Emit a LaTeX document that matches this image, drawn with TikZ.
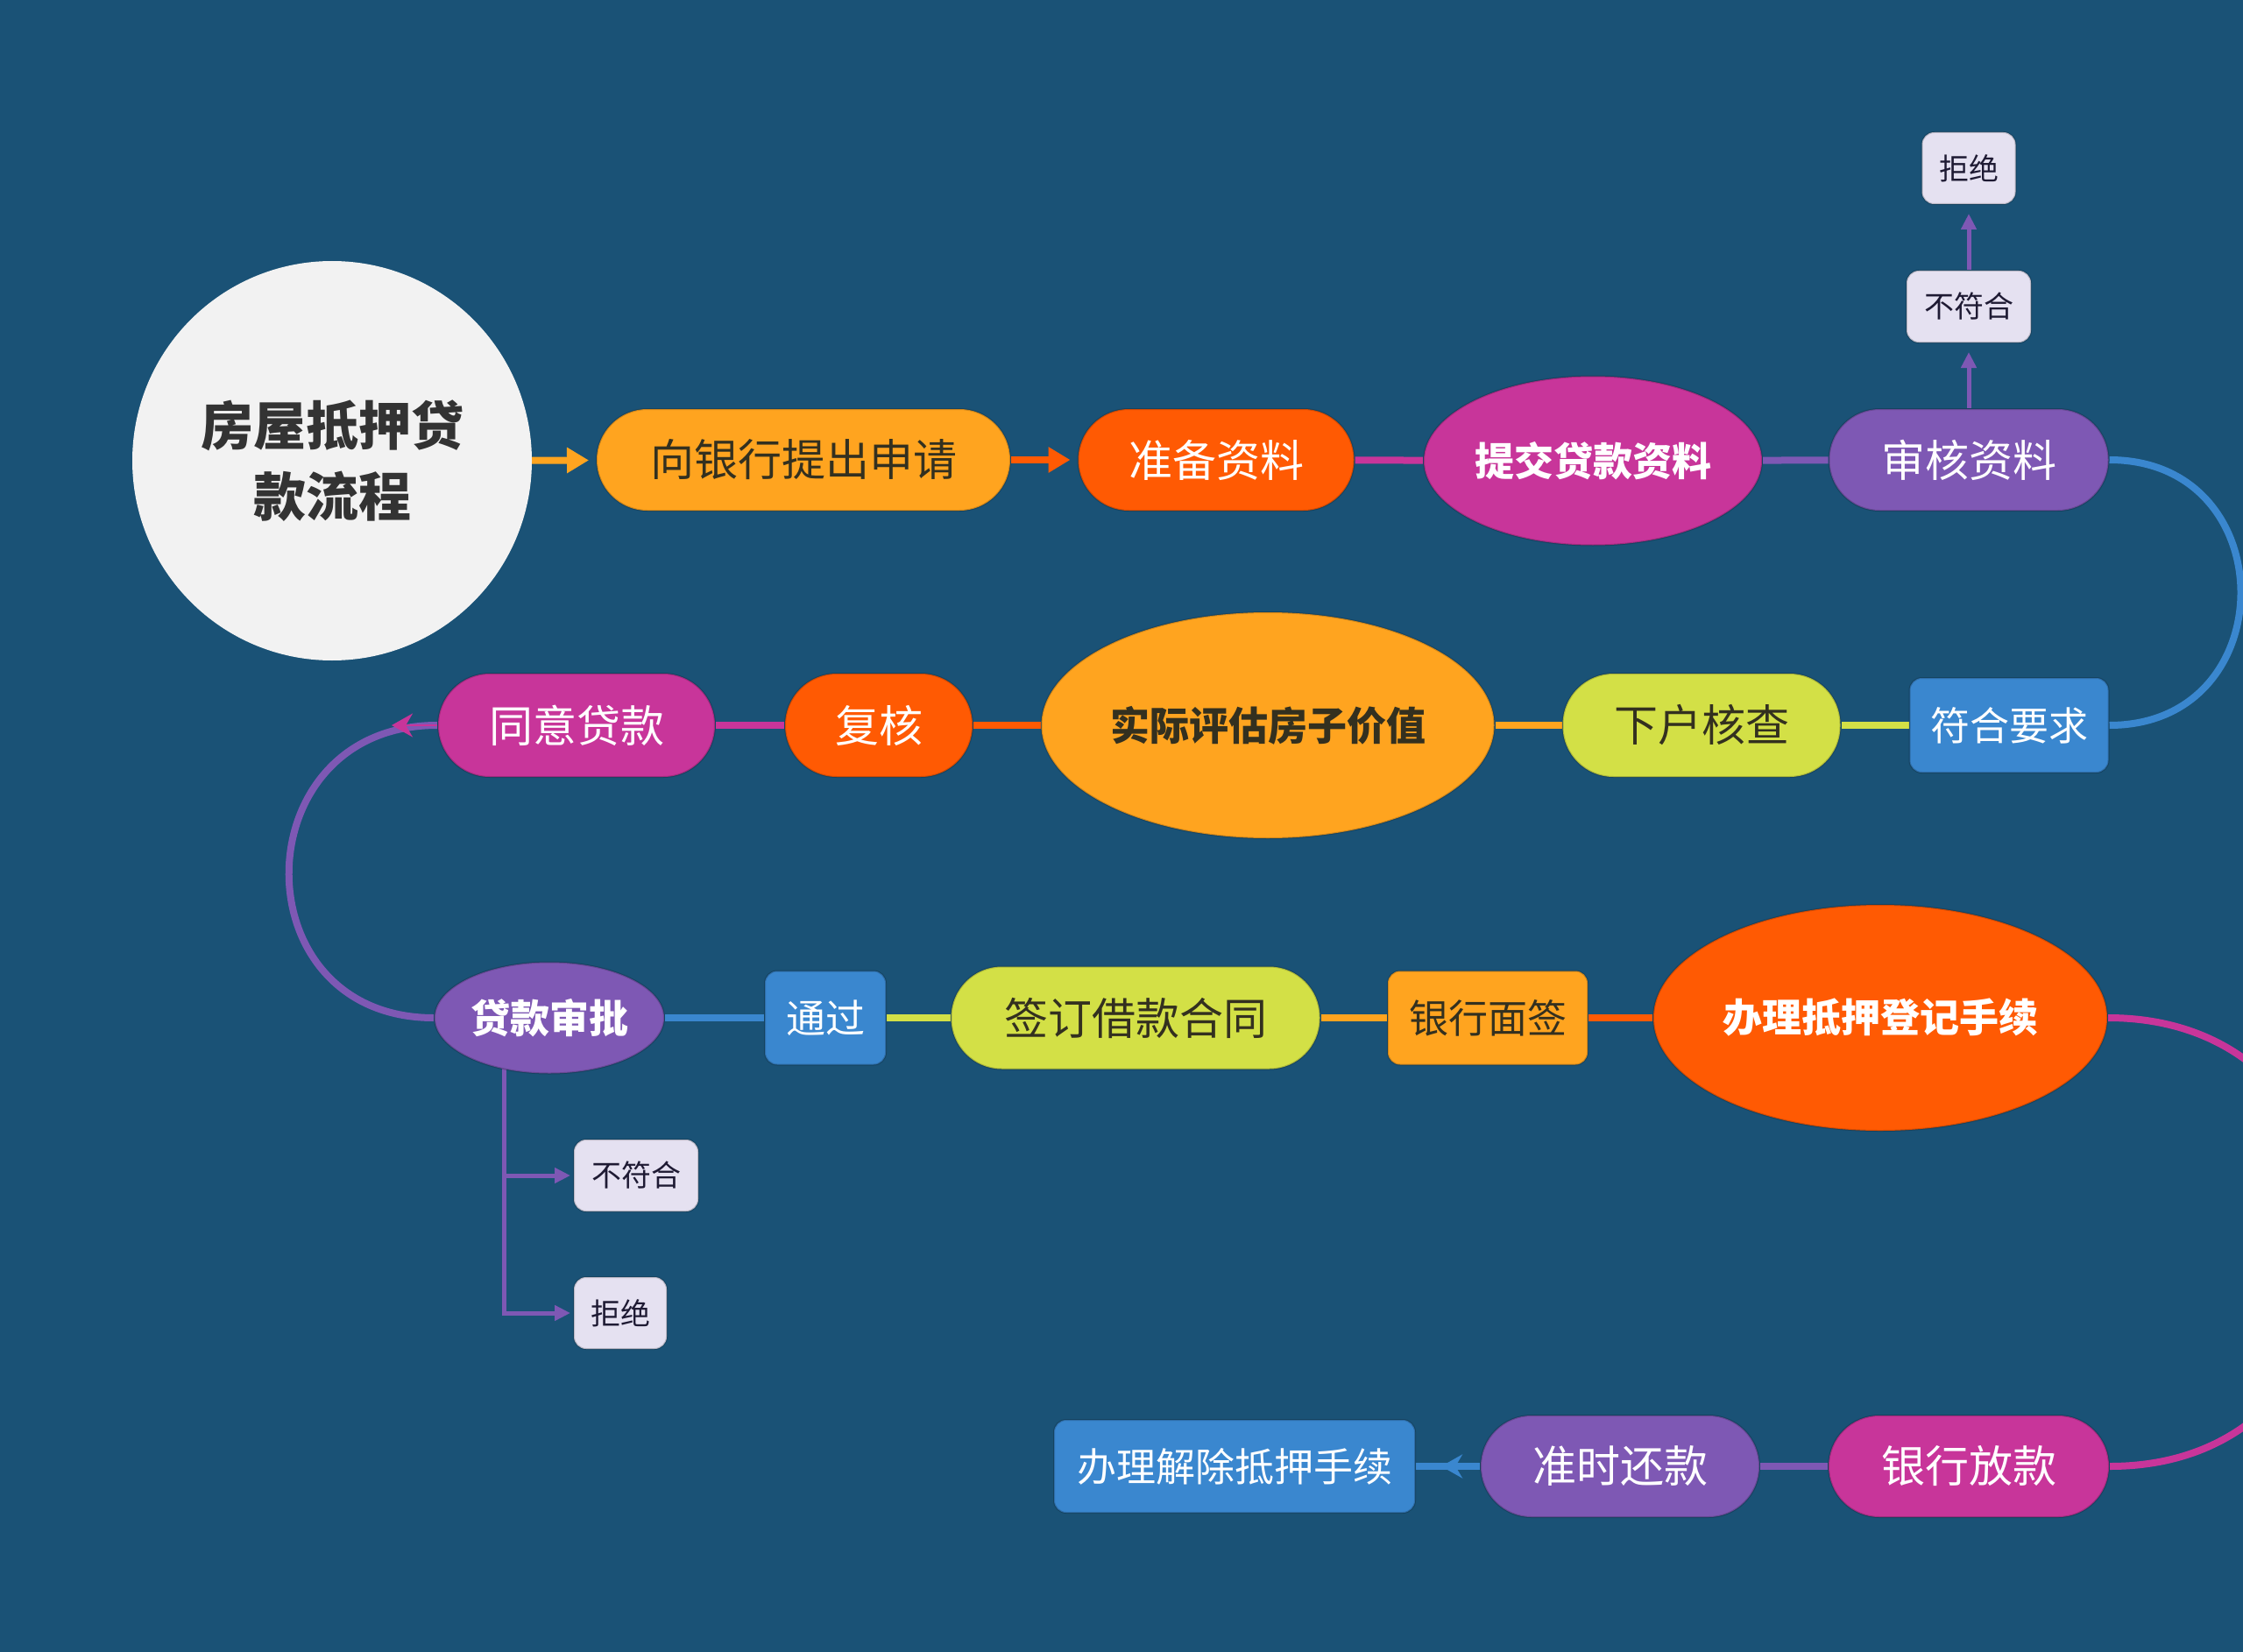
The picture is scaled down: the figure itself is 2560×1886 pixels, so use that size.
\documentclass[tikz,border=0pt]{standalone}
\usepackage{fontspec}
\newfontfamily\cjk{Noto Sans CJK SC}
\usetikzlibrary{arrows.meta,shapes.geometric}
\definecolor{bg}{HTML}{1A5276}
\definecolor{org}{HTML}{FFA41F}
\definecolor{rdo}{HTML}{FF5A03}
\definecolor{mag}{HTML}{C8359A}
\definecolor{pur}{HTML}{7E58B4}
\definecolor{blu}{HTML}{3A87CF}
\definecolor{ygr}{HTML}{D3E046}
\definecolor{lav}{HTML}{E5E1F1}
\definecolor{dtx}{HTML}{33301F}
\definecolor{rootfill}{HTML}{F2F2F2}
\definecolor{roottext}{HTML}{333333}
\definecolor{boxtext}{HTML}{1E1A33}
\newcommand\szRoot{\fontsize{60}{81}\selectfont}
\newcommand\szBig{\fontsize{50}{60}\selectfont}
\newcommand\szMid{\fontsize{45}{54}\selectfont}
\newcommand\szSml{\fontsize{34}{40}\selectfont}
\pgfdeclarelayer{bglayer}
\pgfdeclarelayer{edges}
\pgfsetlayers{bglayer,edges,main}
\tikzset{
  base/.style={font=\cjk, inner sep=0pt, align=center, draw=black, draw opacity=0.18, line width=2},
  pill/.style={base, rectangle, rounded corners=58, minimum height=116, font=\cjk\szBig},
  sqbox/.style={base, rectangle, rounded corners=14, font=\cjk\szMid},
  oval/.style={base, ellipse, font=\cjk\bfseries\szMid, text=white},
  lightbox/.style={base, rectangle, rounded corners=14, fill=lav, text=boxtext, font=\cjk\szSml, minimum height=82},
  conn/.style={line width=8},
  thin/.style={line width=5},
  bigtip/.style={-{Triangle[length=25,width=28]}},
  smalltip/.style={-{Triangle[length=18,width=17]}},
}
\begin{document}
\begin{tikzpicture}[x=1pt,y=-1pt]
\begin{pgfonlayer}{bglayer}
\fill[bg] (0,0) rectangle (2560,1886);
\end{pgfonlayer}
\useasboundingbox (0,0) rectangle (2560,1886);

% nodes
\node[circle, fill=rootfill, minimum size=456, inner sep=0pt, align=center, text=roottext, font=\cjk\bfseries\szRoot] (root) at (379,526) {房屋抵押贷\\款流程};
\node[pill, fill=org, text=dtx, minimum width=472] (n1) at (917,525) {向银行提出申请};
\node[pill, fill=rdo, text=white, minimum width=315] (n2) at (1388,525) {准备资料};
\node[oval, fill=mag, minimum width=386, minimum height=193] (n3) at (1818,526) {提交贷款资料};
\node[pill, fill=pur, text=white, minimum width=319] (n4) at (2247,525) {审核资料};
\node[lightbox, minimum width=142] (n4a) at (2247,350) {不符合};
\node[lightbox, minimum width=107] (n4b) at (2247,192) {拒绝};

\node[sqbox, fill=blu, text=white, minimum width=227, minimum height=108] (n5) at (2293,828) {符合要求};
\node[pill, fill=ygr, text=dtx, minimum width=317, minimum height=118] (n6) at (1942,828) {下户核查};
\node[oval, fill=org, text=dtx, minimum width=517, minimum height=258] (n7) at (1447,828) {实际评估房子价值};
\node[pill, fill=rdo, text=white, minimum width=214, minimum height=118, rounded corners=59] (n8) at (1003,828) {复核};
\node[pill, fill=mag, text=white, minimum width=316, minimum height=118, rounded corners=59] (n9) at (658,828) {同意贷款};

\node[oval, fill=pur, minimum width=262, minimum height=127] (n10) at (627,1162) {贷款审批};
\node[sqbox, fill=blu, text=white, minimum width=138, minimum height=107] (n11) at (942,1162) {通过};
\node[pill, fill=ygr, text=dtx, minimum width=421, minimum height=117] (n12) at (1296,1162) {签订借款合同};
\node[sqbox, fill=org, text=dtx, minimum width=228, minimum height=107] (n13) at (1698,1162) {银行面签};
\node[oval, fill=rdo, minimum width=518, minimum height=258] (n14) at (2146,1162) {办理抵押登记手续};

\node[lightbox, minimum width=142] (n18) at (726,1342) {不符合};
\node[lightbox, minimum width=106] (n19) at (708,1499) {拒绝};

\node[pill, fill=mag, text=white, minimum width=320] (n15) at (2247,1674) {银行放款};
\node[pill, fill=pur, text=white, minimum width=318] (n16) at (1849,1674) {准时还款};
\node[sqbox, fill=blu, text=white, minimum width=412, minimum height=106] (n17) at (1409,1674) {办理解除抵押手续};

% helper coordinates
\coordinate (t9) at (447,828);
\coordinate (t17) at (1645,1674);
\coordinate (b0) at (575,1200);

% connectors, behind the nodes
\begin{pgfonlayer}{edges}
\draw[org, conn, bigtip, shorten >=8] (root) -- (n1);
\draw[rdo, conn, bigtip, shorten >=8] (n1) -- (n2);
\draw[mag, conn] (n2) -- (n3);
\draw[pur, conn] (n3) -- (n4);
\draw[pur, thin, smalltip, shorten >=10] (n4) -- (n4a);
\draw[pur, thin, smalltip, shorten >=10] (n4a) -- (n4b);
\draw[blu, conn] (n4.east) .. controls +(200,0) and +(200,0) .. (n5.east);
\draw[ygr, conn] (n5) -- (n6);
\draw[org, conn] (n6) -- (n7);
\draw[rdo, conn] (n7) -- (n8);
\draw[mag, conn] (n8) -- (n9);
\draw[pur, conn] (n10.west) .. controls +(-223,0) and +(-223,0) .. (n9.west);
\draw[mag, line width=2, -{Stealth[length=24,width=27]}] (n9.west) -- (t9);
\draw[blu, conn] (n10) -- (n11);
\draw[ygr, conn] (n11) -- (n12);
\draw[org, conn] (n12) -- (n13);
\draw[rdo, conn] (n13) -- (n14);
\draw[mag, conn] (n14.east) .. controls +(341,0) and +(341,0) .. (n15.east);
\draw[pur, conn] (n15) -- (n16);
\draw[blu, conn] (n16) -- (n17);
\draw[blu, conn, -{Stealth[length=24,width=27]}] (n16.west) -- (t17);
\draw[pur, thin, smalltip, shorten >=3] (b0) |- (n18.west);
\draw[pur, thin, smalltip, shorten >=3] (b0) |- (n19.west);
\end{pgfonlayer}
\end{tikzpicture}
\end{document}
